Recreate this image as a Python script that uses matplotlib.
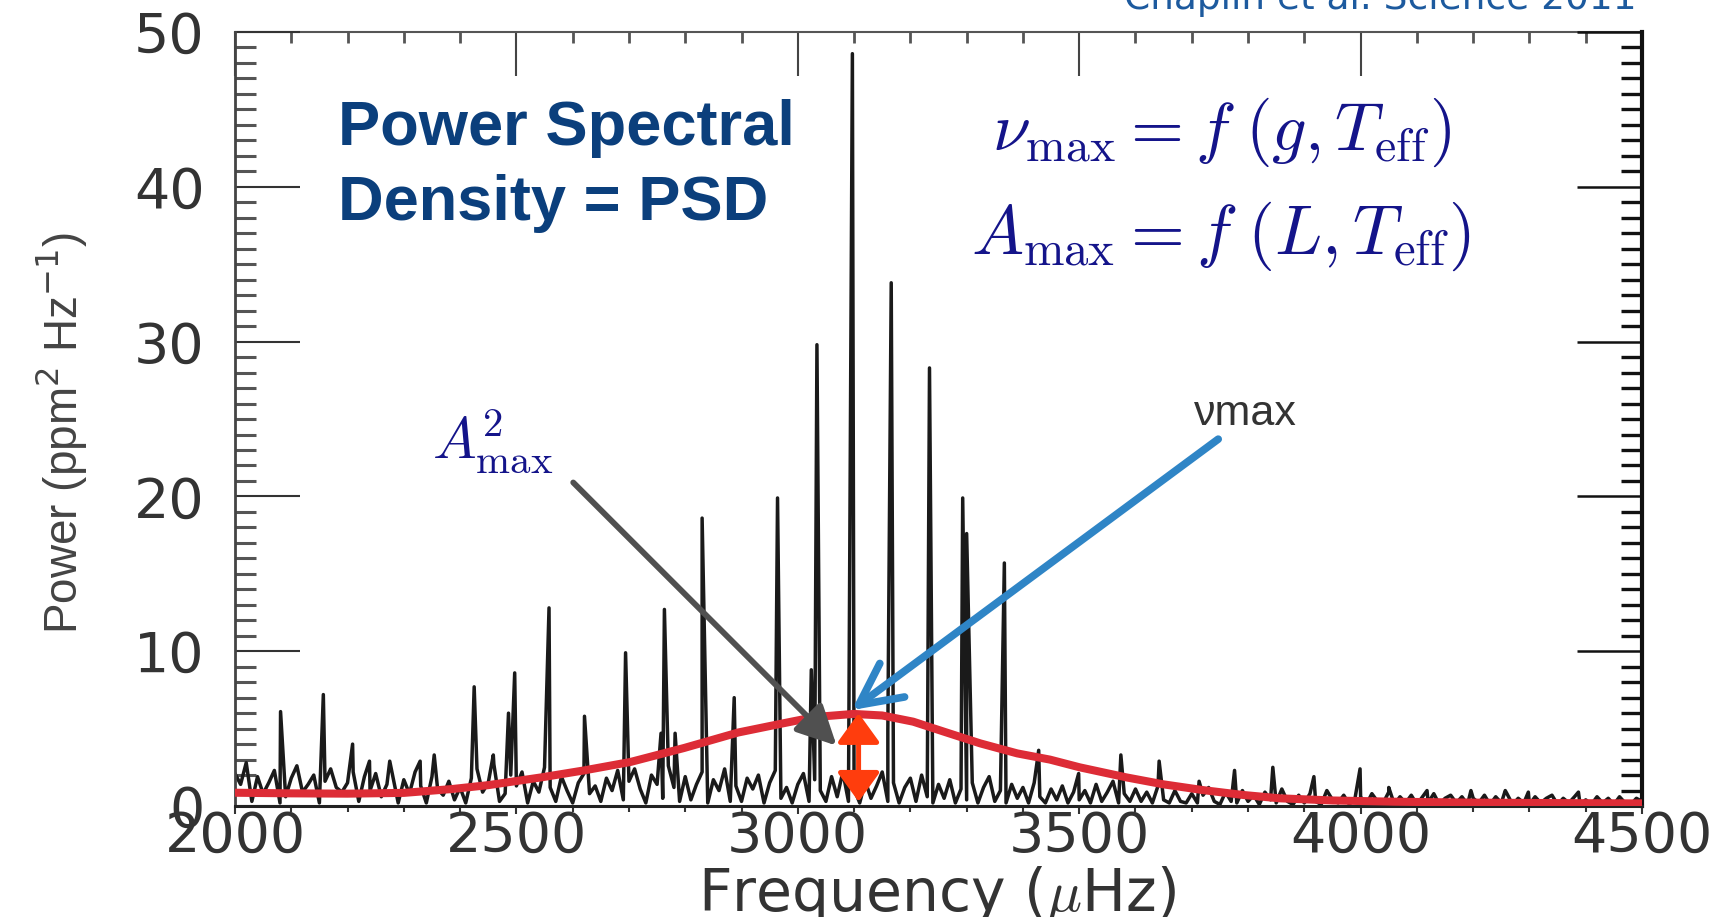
import numpy as np
import matplotlib
matplotlib.use("Agg")
from matplotlib import pyplot as plt
from matplotlib.ticker import MultipleLocator

plt.rcParams['mathtext.fontset'] = 'cm'
plt.rcParams['font.family'] = ['DejaVu Sans']

# background noise of the power spectrum, one value every 10 uHz from 2000 to 4500
noise_start = 2000
noise_step = 10
noise_power = [
    2.1, 1.4, 2.8, 0.3, 1.9, 0.8, 1.5, 2.3, 0.2, 0.6,   # 2000
    1.8, 2.6, 0.9, 1.4, 2.0, 0.2, 1.6, 2.4, 1.2, 0.9,   # 2100
    1.5, 2.2, 0.3, 1.9, 1.0, 2.1, 0.6, 1.4, 2.0, 0.2,   # 2200
    1.7, 0.8, 2.2, 1.3, 0.2, 1.9, 1.1, 0.7, 1.6, 0.4,   # 2300
    1.2, 0.2, 1.8, 2.4, 0.9, 1.5, 2.7, 0.3, 0.8, 2.0,   # 2400
    1.3, 2.2, 0.2, 1.6, 0.9, 2.5, 1.2, 0.3, 1.9, 1.0,   # 2500
    0.2, 1.5, 2.1, 0.8, 1.3, 0.3, 1.8, 1.0, 2.3, 0.4,   # 2600
    1.6, 2.4, 1.1, 0.2, 2.0, 1.4, 0.5, 2.6, 1.2, 0.3,   # 2700
    1.9, 0.4, 1.4, 2.2, 0.2, 1.7, 1.0, 2.4, 0.3, 1.3,   # 2800
    0.3, 1.8, 1.1, 2.0, 0.2, 1.5, 2.3, 0.5, 1.2, 0.2,   # 2900
    1.4, 2.1, 0.3, 1.7, 1.0, 0.3, 1.9, 0.6, 2.2, 0.3,   # 3000
    1.1, 0.2, 1.6, 0.5, 1.3, 2.2, 0.3, 1.5, 0.2, 1.2,   # 3100
    1.8, 0.3, 2.0, 0.6, 0.2, 1.4, 0.5, 1.7, 0.2, 1.1,   # 3200
    0.4, 1.5, 0.2, 1.2, 1.9, 0.3, 1.0, 0.2, 1.4, 0.5,   # 3300
    1.2, 0.2, 1.5, 0.6, 0.2, 1.1, 0.4, 1.3, 0.2, 0.9,   # 3400
    0.4, 1.0, 0.2, 1.4, 0.3, 0.9, 1.6, 0.2, 0.8, 0.3,   # 3500
    1.1, 0.3, 0.9, 0.2, 1.3, 0.4, 0.2, 1.0, 0.3, 0.2,   # 3600
    0.8, 0.2, 0.7, 1.2, 0.3, 0.1, 0.9, 0.3, 0.2, 1.0,   # 3700
    0.3, 0.7, 0.1, 0.9, 0.4, 0.2, 1.1, 0.3, 0.1, 0.7,   # 3800
    0.2, 0.8, 0.3, 0.1, 1.0, 0.4, 0.2, 0.7, 0.1, 0.5,   # 3900
    0.6, 0.1, 0.8, 0.3, 0.2, 0.9, 0.1, 0.6, 0.2, 0.7,   # 4000
    0.1, 0.6, 0.2, 0.8, 0.1, 0.5, 0.7, 0.2, 0.6, 0.1,   # 4100
    0.5, 0.2, 0.7, 0.1, 0.6, 0.2, 0.8, 0.1, 0.5, 0.2,   # 4200
    0.1, 0.6, 0.2, 0.5, 0.7, 0.1, 0.5, 0.2, 0.6, 0.1,   # 4300
    0.4, 0.1, 0.6, 0.2, 0.5, 0.1, 0.6, 0.2, 0.1, 0.5,   # 4400
    0.3,                                                # 4500
]

# oscillation modes sticking out of the noise (frequency in uHz, power)
peak_freq = [2081, 2157, 2209, 2239, 2275, 2329, 2354, 2425, 2459, 2486,
             2497, 2558, 2621, 2694, 2757, 2763, 2782, 2830, 2887, 2964,
             3024, 3034, 3097, 3160, 3166, 3234, 3293, 3300, 3367, 3428,
             3499, 3574, 3642, 3713, 3776, 3844, 3917, 3999, 4050, 4118,
             4196, 4257, 4298, 4387]
peak_power = [6.1, 7.2, 4.0, 2.9, 2.9, 2.9, 3.3, 7.7, 3.3, 6.0,
              8.6, 12.8, 5.8, 9.9, 4.7, 12.7, 4.7, 18.6, 7.0, 19.9,
              8.8, 29.8, 48.6, 4.9, 33.8, 28.3, 19.9, 17.6, 15.7, 3.6,
              2.1, 3.3, 2.9, 1.6, 2.3, 2.5, 1.9, 2.4, 1.2, 1.0,
              1.0, 1.0, 0.9, 0.9]

# smoothed envelope (background + gaussian excess)
env_freq = [2000, 2100, 2200, 2300, 2386, 2450, 2544, 2620, 2703, 2798,
            2894, 2968, 3030, 3099, 3150, 3205, 3260, 3324, 3390, 3448,
            3501, 3584, 3650, 3720, 3790, 3856, 3950, 4060, 4200, 4350, 4500]
env_power = [0.86, 0.82, 0.80, 0.85, 1.10, 1.35, 1.85, 2.30, 2.85, 3.75,
             4.75, 5.30, 5.75, 5.95, 5.85, 5.45, 4.80, 4.05, 3.40, 3.00,
             2.50, 1.85, 1.40, 1.03, 0.72, 0.50, 0.36, 0.28, 0.22, 0.19, 0.17]

numax_freq = 3108
amax_power = 6.0

NAVY = '#14148a'


def build_spectrum():
    # merge the noise grid and the mode peaks into one frequency-ordered trace
    nfreq = noise_start + noise_step * np.arange(len(noise_power))
    freq = np.concatenate([nfreq, peak_freq])
    power = np.concatenate([noise_power, peak_power])
    order = np.argsort(freq, kind='stable')
    return freq[order], power[order]


def style_axes(ax):
    ax.set_xlim(2000, 4500)
    ax.set_ylim(0, 50)
    ax.xaxis.set_major_locator(MultipleLocator(500))
    ax.xaxis.set_minor_locator(MultipleLocator(100))
    ax.yaxis.set_major_locator(MultipleLocator(10))
    ax.yaxis.set_minor_locator(MultipleLocator(1))

    ax.tick_params(axis='x', which='major', direction='out', length=6, width=1.5,
                   color='#333333', labelsize=40, labelcolor='#333333', pad=-3)
    ax.tick_params(axis='x', which='minor', direction='out', length=4, width=1.5,
                   color='#333333')
    ax.tick_params(axis='y', which='major', direction='in', length=47, width=1.5,
                   color='#333333', labelsize=40, labelcolor='#333333', pad=22)
    ax.tick_params(axis='y', which='minor', direction='in', length=15, width=2.2,
                   color='#555555')

    # top and right frame carry their own inward ticks
    top = ax.secondary_xaxis('top')
    top.xaxis.set_major_locator(MultipleLocator(500))
    top.xaxis.set_minor_locator(MultipleLocator(100))
    top.tick_params(which='major', direction='in', length=32, width=1.5,
                    color='#444444', labeltop=False)
    top.tick_params(which='minor', direction='in', length=8, width=2.0,
                    color='#555555')
    top.spines['top'].set_color('#555555')
    top.spines['top'].set_linewidth(1.5)

    right = ax.secondary_yaxis('right')
    right.yaxis.set_major_locator(MultipleLocator(10))
    right.yaxis.set_minor_locator(MultipleLocator(1))
    right.tick_params(which='major', direction='in', length=47, width=1.8,
                      color='#111111', labelright=False)
    right.tick_params(which='minor', direction='in', length=15, width=2.4,
                      color='#111111')
    right.spines['right'].set_color('#111111')
    right.spines['right'].set_linewidth(3)

    ax.spines['left'].set_color('#444444')
    ax.spines['left'].set_linewidth(2)
    ax.spines['bottom'].set_color('#222222')
    ax.spines['bottom'].set_linewidth(2.2)
    ax.spines['top'].set_visible(False)
    ax.spines['right'].set_visible(False)


def main():
    fig = plt.figure(figsize=(17.29, 9.17), dpi=100)
    ax = fig.add_axes([0.1359, 0.1210, 0.8138, 0.8441])
    style_axes(ax)

    freq, power = build_spectrum()
    ax.plot(freq, power, color='#1a1a1a', lw=2.5, zorder=2)
    ax.plot(env_freq, env_power, color='#dd2c36', lw=5.8, zorder=3,
            solid_capstyle='butt')

    # A_max: double arrow from zero up to the envelope maximum
    ax.annotate('', xy=(numax_freq, amax_power), xytext=(numax_freq, 0.28),
                arrowprops=dict(arrowstyle='<|-|>,head_length=1.8,head_width=1.3',
                                mutation_scale=10, lw=3.6, color='#ff3d0d',
                                shrinkA=0, shrinkB=0), zorder=5)

    # pointer arrows for the two labels
    ax.annotate('', xy=(3069, 3.9), xytext=(2601, 20.9),
                arrowprops=dict(arrowstyle='-|>,head_length=2.4,head_width=1.2',
                                mutation_scale=10, lw=4.2, color='#505050',
                                shrinkA=0, shrinkB=0), zorder=5)
    ax.annotate('', xy=(3096, 6.2), xytext=(3747, 23.7),
                arrowprops=dict(arrowstyle='->,head_length=3.0,head_width=1.5',
                                mutation_scale=10, lw=5.5, color='#2f85c6',
                                shrinkA=0, shrinkB=0), zorder=5)

    ax.text(2458, 22.5, r'$A^2_{\rm max}$', color=NAVY, fontsize=42,
            ha='center', va='baseline', zorder=6)
    ax.text(3795, 24.6, 'νmax', color='#333333', fontsize=31,
            family=['Liberation Sans', 'DejaVu Sans'],
            ha='center', va='baseline', zorder=6)

    ax.text(2183, 42.7, 'Power Spectral', color='#0b3f7c', fontsize=45.5,
            fontweight='bold', family=['Liberation Sans', 'DejaVu Sans'],
            ha='left', va='baseline', zorder=6)
    ax.text(2183, 37.86, 'Density = PSD', color='#0b3f7c', fontsize=45.5,
            fontweight='bold', family=['Liberation Sans', 'DejaVu Sans'],
            ha='left', va='baseline', zorder=6)

    ax.text(3752, 42.4, r'$\nu_{\rm max} = f\;(g, T_{\rm eff})$', color=NAVY,
            fontsize=49, ha='center', va='baseline', zorder=6)
    ax.text(3752, 35.7, r'$A_{\rm max} = f\;(L, T_{\rm eff})$', color=NAVY,
            fontsize=50, ha='center', va='baseline', zorder=6)

    fig.text(60.6 / 1729, 1 - 433 / 917, r'Power (ppm$^2$ Hz$^{-1}$)',
             rotation=90, ha='center', va='center', fontsize=33, color='#444444',
             family=['Liberation Sans', 'DejaVu Sans'],
             math_fontfamily='dejavusans')
    fig.text(937 / 1729, 1 - 895 / 917, r'Frequency ($\mu$Hz)', ha='center',
             va='center', fontsize=42, color='#333333')
    fig.text(1637 / 1729, 1 - 9 / 917, 'Chaplin et al. Science 2011',
             ha='right', va='baseline', fontsize=27, color='#1d5a9e')

    fig.savefig('out.png', dpi=100, facecolor='white')


if __name__ == "__main__":
    main()
